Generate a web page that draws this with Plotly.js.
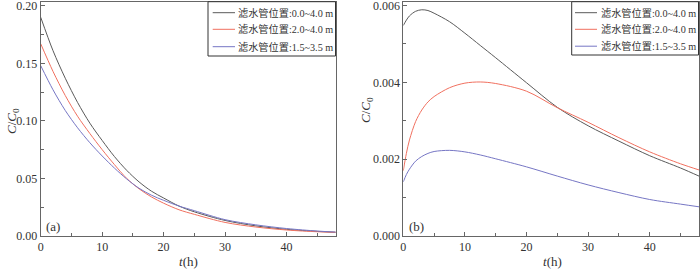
<!DOCTYPE html>
<html>
<head>
<meta charset="utf-8">
<script src="https://cdn.plot.ly/plotly-3.0.1.min.js"></script>
<style>html,body{margin:0;padding:0;background:#fff;}#chart{width:700px;height:269px;}</style>
</head>
<body>
<div id="chart"></div>
<script>
// ---- data ----
var seriesNames = ["滤水管位置:0.0~4.0 m", "滤水管位置:2.0~4.0 m", "滤水管位置:1.5~3.5 m"];
var seriesColors = ["#5a5a5a", "#f0705f", "#7676c4"];

var tA = [0, 2, 4, 6, 8, 10, 12, 14, 16, 18, 20, 22.5, 25, 30, 35, 40, 45, 48];
var blackA = [0.190, 0.161, 0.137, 0.116, 0.098, 0.083, 0.069, 0.057, 0.047, 0.039, 0.033, 0.026, 0.021, 0.0135, 0.0088, 0.0058, 0.0040, 0.0032];
var redA   = [0.167, 0.143, 0.122, 0.104, 0.089, 0.075, 0.062, 0.050, 0.041, 0.034, 0.0285, 0.0228, 0.0188, 0.0118, 0.0078, 0.0052, 0.0037, 0.0032];
var blueA  = [0.148, 0.127, 0.109, 0.094, 0.081, 0.0695, 0.059, 0.0495, 0.0415, 0.0355, 0.031, 0.026, 0.022, 0.0142, 0.0097, 0.0065, 0.0043, 0.0034];

var tB = [0, 0.5, 1, 2, 3, 4, 5, 7.5, 10, 12.5, 15, 20, 25, 30, 35, 40, 45, 48];
var blackB = [0.00548, 0.00562, 0.00573, 0.00585, 0.00589, 0.00587, 0.00580, 0.00558, 0.00528, 0.00496, 0.00464, 0.00399, 0.00335, 0.00287, 0.00247, 0.00209, 0.00177, 0.00156];
var redB   = [0.00170, 0.00215, 0.00250, 0.00298, 0.00328, 0.00349, 0.00363, 0.00386, 0.00398, 0.00401, 0.00397, 0.00377, 0.00334, 0.00296, 0.00256, 0.00219, 0.00188, 0.00172];
var blueB  = [0.00141, 0.00160, 0.00174, 0.00195, 0.00207, 0.00215, 0.00220, 0.00223, 0.00219, 0.00211, 0.00201, 0.00180, 0.00156, 0.00133, 0.00113, 0.00095, 0.00083, 0.00076];

var panelLabels = ["(a)", "(b)"];
var xTitle = "<i>t</i>(h)";
var yTitle = "<i>C</i>/<i>C</i><sub>0</sub>";

// ---- build ----
var W = 700, H = 269;
function px(x) { return x / W; }
function py(y) { return 1 - y / H; }

var seriesA = [blackA, redA, blueA];
var seriesB = [blackB, redB, blueB];
var traces = [];
seriesA.forEach(function (ys, i) {
  traces.push({x: tA, y: ys, type: "scatter", mode: "lines", xaxis: "x", yaxis: "y",
    line: {color: seriesColors[i], width: 1, shape: "spline", smoothing: 0.9}, showlegend: false, hoverinfo: "skip"});
});
seriesB.forEach(function (ys, i) {
  traces.push({x: tB, y: ys, type: "scatter", mode: "lines", xaxis: "x2", yaxis: "y2",
    line: {color: seriesColors[i], width: 1, shape: "spline", smoothing: 0.9}, showlegend: false, hoverinfo: "skip"});
});

var serif = "'Liberation Serif', 'Times New Roman', 'Noto Sans CJK SC', serif";
var tickFont = {family: serif, size: 12, color: "#333"};
var axLine = "#666";

function xAxis(domain, anchor) {
  return {domain: domain, anchor: anchor, range: [0, 48], dtick: 10, tick0: 0,
    ticks: "inside", ticklen: 4, tickwidth: 1, tickcolor: axLine,
    minor: {dtick: 5, ticks: "inside", ticklen: 3, tickcolor: axLine},
    showline: true, linecolor: axLine, linewidth: 1, mirror: true,
    showgrid: false, zeroline: false, tickfont: tickFont, ticklabeloverflow: "allow"};
}
function yAxis(domain, anchor, range, dtick, fmt) {
  return {domain: domain, anchor: anchor, range: range, dtick: dtick, tick0: 0, tickformat: fmt,
    ticks: "inside", ticklen: 4, tickwidth: 1, tickcolor: axLine,
    minor: {dtick: dtick / 2, ticks: "inside", ticklen: 3, tickcolor: axLine},
    showline: true, linecolor: axLine, linewidth: 1, mirror: true,
    showgrid: false, zeroline: false, tickfont: tickFont, ticklabeloverflow: "allow"};
}

var yDom = [py(236), py(1.7)];
var layout = {
  width: W, height: H,
  margin: {l: 0, r: 0, t: 0, b: 0},
  paper_bgcolor: "#fff", plot_bgcolor: "#fff",
  showlegend: false,
  xaxis: xAxis([px(40.7), px(335.7)], "y"),
  yaxis: yAxis(yDom, "x", [0, 0.2035], 0.05, ".2f"),
  xaxis2: xAxis([px(403.3), px(699)], "y2"),
  yaxis2: yAxis(yDom, "x2", [0, 0.0061], 0.002, ".3f"),
  shapes: [],
  annotations: []
};

var titleFont = {family: serif, size: 13, color: "#333"};
// axis titles
layout.annotations.push({xref: "paper", yref: "paper", x: px(12), y: py(121), text: yTitle, textangle: -90, showarrow: false, font: titleFont, xanchor: "center", yanchor: "middle"});
layout.annotations.push({xref: "paper", yref: "paper", x: px(366), y: py(110), text: yTitle, textangle: -90, showarrow: false, font: titleFont, xanchor: "center", yanchor: "middle"});
layout.annotations.push({xref: "paper", yref: "paper", x: px(188), y: py(261), text: xTitle, showarrow: false, font: titleFont, xanchor: "center", yanchor: "middle"});
layout.annotations.push({xref: "paper", yref: "paper", x: px(552), y: py(261), text: xTitle, showarrow: false, font: titleFont, xanchor: "center", yanchor: "middle"});
// panel labels
layout.annotations.push({xref: "paper", yref: "paper", x: px(52.5), y: py(226), text: panelLabels[0], showarrow: false, font: titleFont, xanchor: "center", yanchor: "middle"});
layout.annotations.push({xref: "paper", yref: "paper", x: px(416.5), y: py(226), text: panelLabels[1], showarrow: false, font: titleFont, xanchor: "center", yanchor: "middle"});

// manual legends
var legends = [
  {box: [208, 1.7, 335.5, 56], line: [212.7, 235], text: 236, rows: [12.7, 29.3, 46.7]},
  {box: [571.7, 1.7, 698.5, 55], line: [575, 597], text: 598.5, rows: [12.7, 29.3, 46.2]}
];
var legFont = {family: serif, size: 10.2, color: "#333"};
legends.forEach(function (L) {
  layout.shapes.push({type: "rect", xref: "paper", yref: "paper",
    x0: px(L.box[0]), x1: px(L.box[2]), y0: py(L.box[3]), y1: py(L.box[1]),
    line: {color: "#333", width: 1}, fillcolor: "rgba(255,255,255,1)", layer: "above"});
  seriesNames.forEach(function (name, i) {
    layout.shapes.push({type: "line", xref: "paper", yref: "paper",
      x0: px(L.line[0]), x1: px(L.line[1]), y0: py(L.rows[i]), y1: py(L.rows[i]),
      line: {color: seriesColors[i], width: 1}, layer: "above"});
    layout.annotations.push({xref: "paper", yref: "paper", x: px(L.text), y: py(L.rows[i]),
      text: name, showarrow: false, font: legFont, xanchor: "left", yanchor: "middle"});
  });
});

Plotly.newPlot("chart", traces, layout, {staticPlot: true, displayModeBar: false});
</script>
</body>
</html>
